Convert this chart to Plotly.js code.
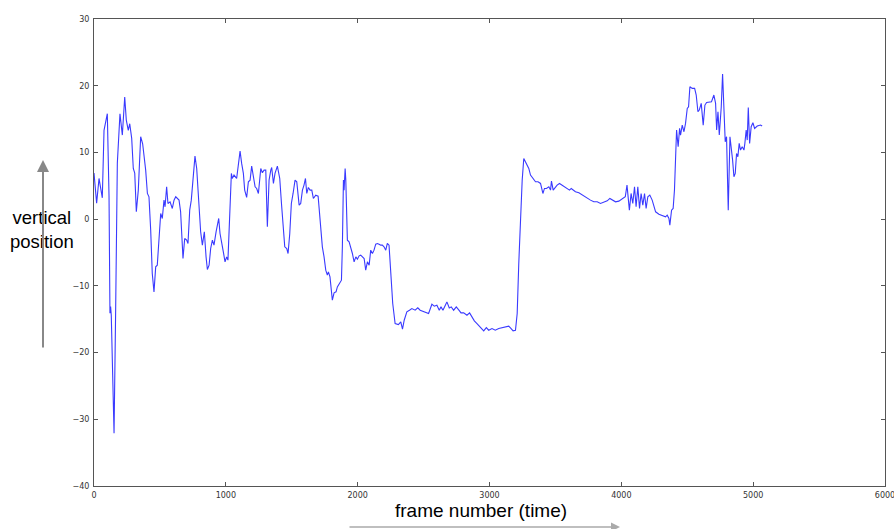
<!DOCTYPE html>
<html>
<head>
<meta charset="utf-8">
<script src="https://cdn.plot.ly/plotly-3.0.1.min.js"></script>
<style>html,body{margin:0;padding:0;background:#fff;}#chart{width:894px;height:529px;}</style>
</head>
<body>
<div id="chart"></div>
<script>
const frames = [0,20,38,56,63,76,101,114,121,126,131,152,164,177,197,215,233,245,260,271,286,298,309,321,336,354,369,379,392,405,417,430,442,455,468,480,493,506,518,531,539,551,561,577,594,607,620,645,657,665,675,688,703,713,726,738,751,766,779,797,809,822,837,850,860,873,885,898,910,926,946,956,969,981,994,1006,1016,1029,1042,1049,1062,1082,1095,1108,1120,1133,1143,1158,1171,1184,1196,1209,1222,1234,1247,1265,1277,1290,1303,1315,1328,1341,1348,1361,1373,1391,1409,1422,1434,1447,1462,1472,1485,1497,1510,1525,1538,1556,1568,1581,1593,1604,1614,1626,1639,1652,1664,1682,1700,1710,1720,1732,1745,1758,1770,1778,1790,1801,1808,1821,1836,1846,1859,1877,1884,1892,1897,1905,1910,1922,1935,1948,1960,1973,1986,1998,2011,2023,2036,2049,2061,2074,2087,2099,2112,2124,2137,2150,2162,2175,2187,2200,2213,2225,2238,2250,2266,2284,2309,2327,2340,2353,2373,2393,2411,2436,2456,2474,2500,2538,2563,2581,2601,2619,2632,2647,2665,2677,2695,2710,2728,2748,2768,2784,2804,2829,2849,2867,2885,2905,2930,2956,2976,2994,3019,3044,3070,3095,3120,3146,3164,3179,3197,3210,3222,3235,3248,3260,3273,3286,3298,3311,3331,3349,3368,3387,3405,3417,3432,3450,3463,3470,3483,3501,3513,3531,3551,3569,3589,3607,3620,3635,3652,3678,3703,3721,3741,3766,3791,3817,3842,3867,3893,3913,3931,3956,3981,4006,4030,4043,4061,4074,4087,4100,4112,4125,4138,4150,4163,4176,4188,4201,4216,4234,4247,4260,4285,4310,4335,4348,4361,4368,4381,4393,4403,4419,4431,4442,4449,4462,4475,4487,4500,4510,4520,4538,4556,4568,4581,4591,4606,4621,4634,4647,4665,4684,4702,4715,4723,4733,4743,4758,4768,4778,4788,4798,4811,4824,4834,4844,4854,4864,4874,4884,4894,4904,4917,4930,4937,4947,4955,4963,4973,4985,4998,5011,5031,5056,5068];
const position = [6.9,2.4,6.1,3.6,3.2,13.3,15.8,3.4,-14.1,-13.1,-14.4,-32.1,-14,8.4,15.8,12.6,18.3,14.85,13.3,14.3,12.1,7.6,6.9,1.1,4.35,12.35,11.3,9.85,7.35,3.85,3.35,-1.65,-8.15,-10.9,-7.15,-6.9,-2.65,0.85,0.1,2.85,1.85,4.85,2.35,2.6,1.6,2.85,3.35,2.85,1.1,-2.65,-5.9,-2.9,-3.15,-3.65,1.35,2.85,5.85,9.45,7.6,2.35,-1.9,-3.9,-1.9,-5.65,-7.55,-6.9,-4.4,-3.15,-3.9,-1.9,0.1,-2.15,-3.9,-4.9,-6.4,-5.65,-6.15,0.85,6.85,6.1,6.6,6.1,7.85,10.2,8.35,6.85,4.35,3.25,5.6,5.85,7.95,6.35,4.85,4.6,3.85,7.6,6.95,7.35,7.35,-1.15,5.85,7.35,7.75,5.35,6.85,7.95,6.1,2.35,-1.4,-4.15,-4.4,-5.15,-2.15,2.35,3.85,5.85,5.6,2.1,2.35,4.35,5.1,6.1,3.85,4.75,4.35,4.35,3.1,3.6,3.45,1.1,-2.15,-4.15,-5.65,-7.65,-8.4,-7.9,-8.65,-10.65,-12.15,-11.05,-10.9,-10.15,-9.65,-9.15,-4.15,5.85,4.35,7.6,5.85,-3.15,-3.4,-4.15,-5.15,-6.4,-5.65,-6.0,-5.5,-5.4,-5.65,-5.9,-7.65,-6.4,-6.9,-4.65,-5.15,-4.65,-3.75,-3.65,-3.75,-3.9,-3.9,-4.15,-4.65,-3.65,-3.9,-8.4,-12.65,-15.65,-15.8,-15.4,-16.5,-15.15,-13.9,-13.65,-13.4,-13.65,-13.3,-13.65,-13.9,-14.15,-12.75,-13.05,-12.9,-13.65,-13.15,-13.65,-12.9,-12.4,-13.3,-13.15,-13.65,-13.15,-13.65,-14.05,-14.05,-14.4,-14.05,-14.65,-15.25,-15.65,-16.15,-16.75,-16.25,-16.65,-16.4,-16.65,-16.4,-16.3,-16.15,-16.05,-16.4,-16.75,-16.65,-14.15,-6.65,0.85,5.85,9.1,8.6,8.1,7.6,6.6,6.0,5.6,5.6,5.35,3.85,4.6,4.6,4.85,4.35,5.7,4.35,4.85,5.1,5.35,5.1,4.75,4.6,4.35,4.6,4.35,4.1,3.95,3.6,3.45,3.1,2.85,2.6,2.6,2.35,2.6,2.75,3.1,2.85,2.6,2.7,3.1,3.35,5.1,1.35,3.85,2.35,4.85,1.85,4.85,1.6,3.85,2.1,3.85,1.6,3.35,3.6,2.85,1.85,1.1,0.75,0.6,0.35,0.6,0.1,-0.9,1.35,1.6,4.35,13.35,10.85,13.6,12.6,14.1,13.1,14.35,16.6,16.85,19.85,19.6,19.6,18.6,16.1,16.35,17.35,14.1,17.1,17.5,17.5,17.6,18.6,17.35,13.35,16.1,12.6,16.85,21.75,16.6,11.6,12.35,1.35,12.35,10.85,8.85,6.35,6.85,9.85,9.35,11.35,10.35,10.85,10.35,11.35,13.35,11.85,16.75,11.35,13.85,14.45,13.6,13.95,14.1,13.95];

const xTicks = [0,1000,2000,3000,4000,5000,6000];
const yTicks = [-40,-30,-20,-10,0,10,20,30];

const data = [{
  x: frames, y: position, type: 'scatter', mode: 'lines',
  line: {color: '#3a3aff', width: 1.1}, hoverinfo: 'skip'
}];

const axisCommon = {
  showgrid: false, zeroline: false, showline: true, linecolor: '#555', linewidth: 1,
  mirror: 'ticks', ticks: 'inside', ticklen: 4, tickcolor: '#555', tickwidth: 1,
  tickfont: {family: 'DejaVu Sans, sans-serif', size: 8, color: '#333'}
};

const layout = {
  width: 894, height: 529,
  margin: {l: 94, r: 9, t: 19, b: 43, pad: 0},
  paper_bgcolor: '#fff', plot_bgcolor: '#fff',
  showlegend: false,
  xaxis: Object.assign({}, axisCommon, {range: [0, 6000], tickvals: xTicks, ticktext: xTicks.map(String), ticklabelstandoff: 1, ticklabeloverflow: 'allow'}),
  yaxis: Object.assign({}, axisCommon, {range: [-40, 30], tickvals: yTicks, ticklabelstandoff: 2}),
  annotations: [
    {xref: 'paper', yref: 'paper', x: (42-94)/791, y: (486-230)/467, text: 'vertical<br>position',
     showarrow: false, font: {family: 'Liberation Sans, Arial, sans-serif', size: 18.5, color: '#000'}, xanchor: 'center', yanchor: 'middle'},
    {xref: 'paper', yref: 'paper', x: (481-94)/791, y: (486-510)/467, text: 'frame number (time)',
     showarrow: false, font: {family: 'Liberation Sans, Arial, sans-serif', size: 19, color: '#000'}, xanchor: 'center', yanchor: 'middle'},
    {xref: 'paper', yref: 'paper', x: (43-94)/791, y: (486-160)/467, text: '', showarrow: true,
     axref: 'pixel', ayref: 'pixel', ax: 0, ay: 189, arrowhead: 2, arrowsize: 1.2, arrowwidth: 2, arrowcolor: '#888'},
    {xref: 'paper', yref: 'paper', x: (620-94)/791, y: (486-527)/467, text: '', showarrow: true,
     axref: 'pixel', ayref: 'pixel', ax: -272, ay: 0, arrowhead: 2, arrowsize: 1.2, arrowwidth: 1.5, arrowcolor: '#aaa'}
  ]
};

Plotly.newPlot('chart', data, layout, {displayModeBar: false, staticPlot: true});
</script>
</body>
</html>
